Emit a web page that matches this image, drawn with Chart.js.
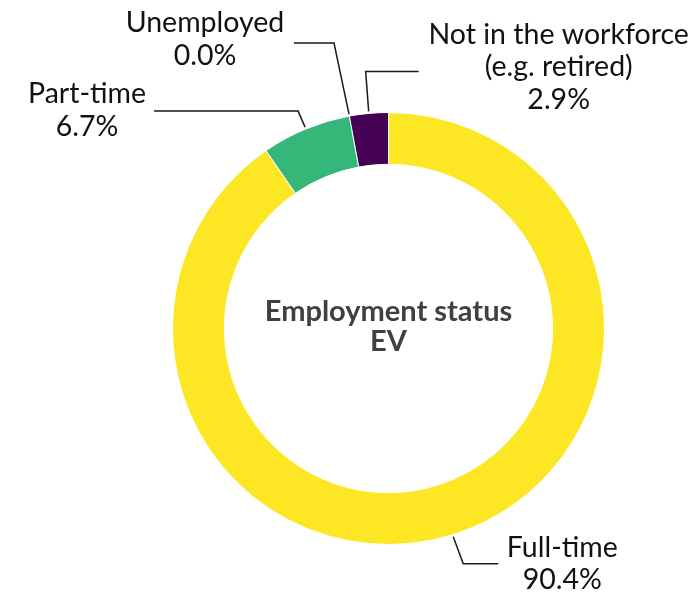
<!DOCTYPE html>
<html>
<head>
<meta charset="utf-8">
<script src="https://cdn.jsdelivr.net/npm/chart.js@4.4.1/dist/chart.umd.min.js"></script>
<style>
  html, body { margin: 0; padding: 0; background: #fff; }
  #wrap { width: 695px; height: 594px; }
</style>
</head>
<body>
<div id="wrap"><canvas id="chart"></canvas></div>
<script>
// Data
const categories = [['Full-time'], ['Part-time'], ['Unemployed'], ['Not in the workforce', '(e.g. retired)']];
const shares = [90.4, 6.7, 0.0, 2.9];
const sliceColors = ['#FDE725', '#35B779', '#31688E', '#440154'];
const centerTitle = ['Employment status', 'EV'];

// Leader line layout, relative to the anchor on the slice edge
const leaders = [
    { elbow: [10, 27], run: 35, text: [64, -16] },
    { elbow: [-7, -16], run: -144, text: [-67, -17] },
    { elbow: [-15, -71], run: -40, text: [-89, -20] },
    { elbow: [-3, -40], run: 53, text: [140, -37] }
];

const labelFont = '28.5px Lato';
const centerFont = 'bold 29px Lato';

const calloutPlugin = {
    id: 'callouts',
    afterDraw(chart) {
        const ctx = chart.ctx;
        const arcs = chart.getDatasetMeta(0).data;
        ctx.save();
        arcs.forEach((arc, i) => {
            const p = arc.getProps(['x', 'y', 'startAngle', 'endAngle', 'outerRadius'], true);
            const mid = (p.startAngle + p.endAngle) / 2;
            const r = p.outerRadius + 2;
            const ax = p.x + Math.cos(mid) * r;
            const ay = p.y + Math.sin(mid) * r;
            const L = leaders[i];
            const ex = ax + L.elbow[0], ey = ay + L.elbow[1];
            const endX = ex + L.run;

            ctx.strokeStyle = '#1a1a1a';
            ctx.lineWidth = 1.5;
            ctx.beginPath();
            ctx.moveTo(ax, ay);
            ctx.lineTo(ex, ey);
            ctx.lineTo(endX, ey);
            ctx.stroke();

            const lines = categories[i].concat([shares[i].toFixed(1) + '%']);
            ctx.fillStyle = '#111';
            ctx.font = labelFont;
            ctx.textAlign = 'center';
            ctx.textBaseline = 'middle';
            lines.forEach((t, k) => {
                ctx.fillText(t, endX + L.text[0], ey + L.text[1] + k * 32.5);
            });
        });

        // centre title
        const a0 = arcs[0];
        ctx.fillStyle = '#404040';
        ctx.font = centerFont;
        ctx.textAlign = 'center';
        ctx.textBaseline = 'middle';
        centerTitle.forEach((t, k) => {
            ctx.fillText(t, a0.x, a0.y - 17 + k * 30);
        });
        ctx.restore();
    }
};

new Chart(document.getElementById('chart'), {
    type: 'doughnut',
    data: {
        labels: categories.map(c => c.join(' ')),
        datasets: [{
            data: shares,
            backgroundColor: sliceColors,
            borderColor: '#ffffff',
            borderWidth: 1
        }]
    },
    options: {
        responsive: true,
        maintainAspectRatio: false,
        animation: false,
        cutout: '76%',
        layout: { padding: { left: 172, right: 90, top: 112, bottom: 49 } },
        plugins: {
            legend: { display: false },
            tooltip: { enabled: false }
        }
    },
    plugins: [calloutPlugin]
});
</script>
</body>
</html>
